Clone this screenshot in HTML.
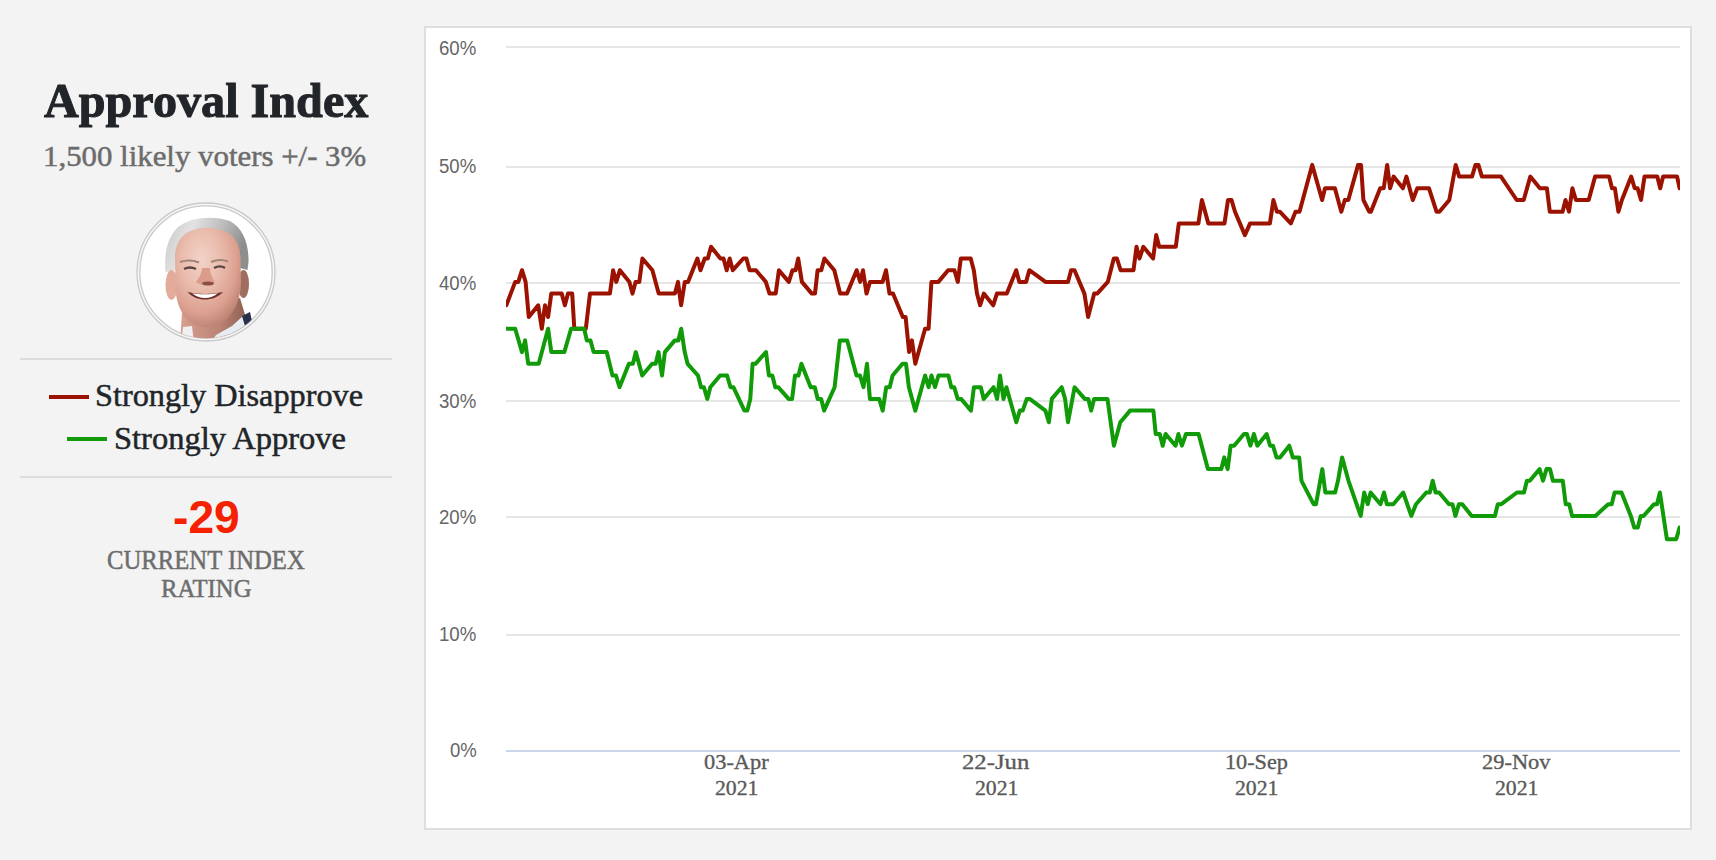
<!DOCTYPE html>
<html><head><meta charset="utf-8">
<style>
html,body{margin:0;padding:0;}
body{width:1716px;height:860px;background:#f3f3f3;position:relative;overflow:hidden;font-family:"Liberation Serif",serif;}
.t{position:absolute;white-space:nowrap;line-height:1;transform-origin:0 0;}
.hr{position:absolute;left:20px;width:372px;height:2px;background:#dcdcdc;}
.sw{position:absolute;height:4px;}
#chart{position:absolute;left:424px;top:26px;width:1264px;height:800px;background:#fff;border:2px solid #dedede;}
.gl{position:absolute;left:506px;width:1174px;height:2px;background:#e6e6e6;}
svg{position:absolute;left:0;top:0;}
</style></head><body>
<div id="photo" style="position:absolute;left:136px;top:202px;width:140px;height:140px;">
<svg width="140" height="140" viewBox="0 0 140 140">
<defs>
<clipPath id="cp"><circle cx="70" cy="70" r="66.2"/></clipPath>
<radialGradient id="skin" cx="0.4" cy="0.32" r="0.72">
<stop offset="0" stop-color="#f2d3c8"/><stop offset="0.4" stop-color="#eabdae"/><stop offset="0.75" stop-color="#dca090"/><stop offset="1" stop-color="#b98070"/>
</radialGradient>
<linearGradient id="neck" x1="0" y1="0" x2="1" y2="0">
<stop offset="0" stop-color="#d7a090"/><stop offset="0.6" stop-color="#b98272"/><stop offset="1" stop-color="#8a5e50"/>
</linearGradient>
<linearGradient id="hair" x1="0" y1="0" x2="1" y2="0.25">
<stop offset="0" stop-color="#c8c8c8"/><stop offset="0.35" stop-color="#e2e2e2"/><stop offset="0.7" stop-color="#bababa"/><stop offset="1" stop-color="#8e8e8e"/>
</linearGradient>
</defs>
<circle cx="70" cy="70" r="69" fill="#f6f6f6" stroke="#c9c9c9" stroke-width="1.3"/>
<circle cx="70" cy="70" r="66.2" fill="#fff" stroke="#c9c9c9" stroke-width="1.3"/>
<g clip-path="url(#cp)">
<path d="M46,110 L104,96 L110,116 L112,142 L44,142 Z" fill="url(#neck)"/>
<path d="M47,125 L56,124 L58,142 L45,142 Z" fill="#f0f0f0"/>
<path d="M108,113 L112,122 L104,134 L86,142 L74,142 L80,133 L96,124 Z" fill="#e6ecf2"/>
<path d="M106,114 L114,110 L117,124 L109,124 Z" fill="#28314a"/>
<path d="M29.5,70 C28,52 31,36 42,25 C54,15 78,13 94,19 C107,26 113,42 112.5,60 L111.5,68 L104,66 L40,68 Z" fill="url(#hair)"/>
<ellipse cx="35.5" cy="83" rx="6" ry="15" fill="#e2ab9a"/>
<ellipse cx="107.5" cy="82" rx="5.5" ry="14" fill="#a06e60"/>
<path d="M39,58 C38,36 52,26 70,26 C90,26 104,34 104.5,56 L105,82 C104,100 98,110 90,118 C84,123 76,125 70,125 C60,124 52,120 47,112 C42,104 40,96 39.5,86 Z" fill="url(#skin)"/>
<path d="M44,60 C50,58 57,58 63,60.5" stroke="#a08478" stroke-width="2" fill="none"/>
<path d="M75,60 C81,57.5 87,57.5 92,59.5" stroke="#a08478" stroke-width="2" fill="none"/>
<path d="M48,67 C52,65 56,65 60,67" stroke="#5a4442" stroke-width="2.3" fill="none"/>
<path d="M78,66 C82,64 86,64 89,66" stroke="#5a4442" stroke-width="2.3" fill="none"/>
<path d="M66,66 C66,72 62,77 60,80 C64,84 74,84 79,80 C76,76 74,71 74,66 Z" fill="#dc9c8c"/>
<ellipse cx="72" cy="81.5" rx="6" ry="2" fill="#8a5046"/>
<path d="M51.5,90 C60,100 78,100 87,90 C77,92.5 61,92.5 51.5,90 Z" fill="#6e3028"/>
<path d="M56,91.2 C63,97.6 75,97.6 82,91.2 C75,92.6 63,92.6 56,91.2 Z" fill="#ffffff"/>
</g>
</svg>
</div>
<div class="hr" style="top:358px"></div>
<div class="sw" style="left:49px;top:395px;width:40px;background:#9c1200"></div>
<div class="sw" style="left:67px;top:437px;width:40px;background:#119b08"></div>
<div class="hr" style="top:476px"></div>
<div id="chart"></div>
<div class="gl" style="top:46px"></div>
<div class="gl" style="top:166px"></div>
<div class="gl" style="top:282px"></div>
<div class="gl" style="top:400px"></div>
<div class="gl" style="top:516px"></div>
<div class="gl" style="top:634px"></div>
<div class="gl" style="top:750px;background:#ccd6eb"></div>
<div class="t" style="left:43.62px;top:75.80px;font-size:49.47px;font-family:'Liberation Serif';font-weight:bold;color:#212529;transform:scaleX(0.9738);-webkit-text-stroke:1px #212529">Approval Index</div>
<div class="t" style="left:43.22px;top:140.91px;font-size:29.92px;font-family:'Liberation Serif';font-weight:normal;color:#6c6c6c;transform:scaleX(1.0314);-webkit-text-stroke:0.5px #6c6c6c">1,500 likely voters +/- 3%</div>
<div class="t" style="left:95.40px;top:380.16px;font-size:31.91px;font-family:'Liberation Serif';font-weight:normal;color:#212529;transform:scaleX(1.0114);-webkit-text-stroke:0.5px #212529">Strongly Disapprove</div>
<div class="t" style="left:113.59px;top:422.77px;font-size:31.30px;font-family:'Liberation Serif';font-weight:normal;color:#212529;transform:scaleX(1.0384);-webkit-text-stroke:0.5px #212529">Strongly Approve</div>
<div class="t" style="left:173.05px;top:494.94px;font-size:45.92px;font-family:'Liberation Sans';font-weight:bold;color:#f52000;transform:scaleX(1.0063);">-29</div>
<div class="t" style="left:106.91px;top:546.72px;font-size:26.72px;font-family:'Liberation Serif';font-weight:normal;color:#6d6d6d;transform:scaleX(0.9242);-webkit-text-stroke:0.5px #6d6d6d">CURRENT INDEX</div>
<div class="t" style="left:160.76px;top:576.13px;font-size:26.12px;font-family:'Liberation Serif';font-weight:normal;color:#6d6d6d;transform:scaleX(0.9452);-webkit-text-stroke:0.5px #6d6d6d">RATING</div>
<div class="t" style="left:439.07px;top:38.18px;font-size:20.85px;font-family:'Liberation Sans';font-weight:normal;color:#666666;transform:scaleX(0.8943);">60%</div>
<div class="t" style="left:439.17px;top:157.28px;font-size:19.44px;font-family:'Liberation Sans';font-weight:normal;color:#666666;transform:scaleX(0.9564);">50%</div>
<div class="t" style="left:439.07px;top:273.04px;font-size:20.42px;font-family:'Liberation Sans';font-weight:normal;color:#666666;transform:scaleX(0.9128);">40%</div>
<div class="t" style="left:439.07px;top:390.54px;font-size:20.42px;font-family:'Liberation Sans';font-weight:normal;color:#666666;transform:scaleX(0.9128);">30%</div>
<div class="t" style="left:439.07px;top:506.98px;font-size:20.85px;font-family:'Liberation Sans';font-weight:normal;color:#666666;transform:scaleX(0.8943);">20%</div>
<div class="t" style="left:439.07px;top:624.48px;font-size:20.85px;font-family:'Liberation Sans';font-weight:normal;color:#666666;transform:scaleX(0.8943);">10%</div>
<div class="t" style="left:449.56px;top:740.30px;font-size:20.70px;font-family:'Liberation Sans';font-weight:normal;color:#666666;transform:scaleX(0.8955);">0%</div>
<div class="t" style="left:703.50px;top:751.60px;font-size:21.78px;font-family:'Liberation Serif';font-weight:normal;color:#595959;transform:scaleX(1.0283);-webkit-text-stroke:0.35px #595959">03-Apr</div>
<div class="t" style="left:714.62px;top:777.85px;font-size:21.48px;font-family:'Liberation Serif';font-weight:normal;color:#595959;transform:scaleX(1.0121);-webkit-text-stroke:0.35px #595959">2021</div>
<div class="t" style="left:962.29px;top:751.60px;font-size:21.78px;font-family:'Liberation Serif';font-weight:normal;color:#595959;transform:scaleX(1.1359);-webkit-text-stroke:0.35px #595959">22-Jun</div>
<div class="t" style="left:974.72px;top:777.85px;font-size:21.48px;font-family:'Liberation Serif';font-weight:normal;color:#595959;transform:scaleX(1.0121);-webkit-text-stroke:0.35px #595959">2021</div>
<div class="t" style="left:1224.60px;top:751.60px;font-size:21.78px;font-family:'Liberation Serif';font-weight:normal;color:#595959;transform:scaleX(1.0202);-webkit-text-stroke:0.35px #595959">10-Sep</div>
<div class="t" style="left:1235.07px;top:777.85px;font-size:21.48px;font-family:'Liberation Serif';font-weight:normal;color:#595959;transform:scaleX(1.0121);-webkit-text-stroke:0.35px #595959">2021</div>
<div class="t" style="left:1482.09px;top:751.60px;font-size:21.78px;font-family:'Liberation Serif';font-weight:normal;color:#595959;transform:scaleX(1.0297);-webkit-text-stroke:0.35px #595959">29-Nov</div>
<div class="t" style="left:1495.27px;top:777.85px;font-size:21.48px;font-family:'Liberation Serif';font-weight:normal;color:#595959;transform:scaleX(1.0121);-webkit-text-stroke:0.35px #595959">2021</div>
<svg width="1716" height="860" viewBox="0 0 1716 860" id="plot">
<defs><clipPath id="pa"><rect x="506" y="20" width="1174" height="740"/></clipPath></defs><g clip-path="url(#pa)"><polyline points="506.3,305.3 515.2,281.9 518.3,281.9 522.0,270.2 525.6,281.9 528.8,317.0 538.2,305.3 541.8,328.7 545.0,305.3 548.1,317.0 551.3,293.6 561.7,293.6 564.9,305.3 568.0,293.6 572.2,293.6 574.3,328.7 585.8,328.7 590.0,293.6 609.9,293.6 613.1,270.2 616.3,281.9 619.9,270.2 629.4,281.9 632.5,293.6 635.6,281.9 639.3,281.9 642.4,258.5 652.4,270.2 658.7,293.6 674.9,293.6 678.0,281.9 681.1,305.3 684.8,281.9 688.0,281.9 697.4,258.5 700.5,270.2 704.7,258.5 707.8,258.5 711.0,246.8 720.4,258.5 723.5,258.5 726.7,270.2 729.7,258.5 732.8,270.2 743.3,258.5 746.4,258.5 749.6,270.2 755.9,270.2 765.8,281.9 769.5,293.6 775.7,293.6 778.9,270.2 788.8,281.9 792.5,270.2 795.6,270.2 798.2,258.5 801.9,281.9 811.8,293.6 815.0,293.6 817.6,270.2 821.3,270.2 824.4,258.5 834.3,270.2 840.1,293.6 847.0,293.6 856.7,270.2 860.2,281.9 863.0,270.2 866.5,293.6 870.0,281.9 882.6,281.9 886.0,270.2 889.5,293.6 893.0,293.6 902.8,317.0 905.6,317.0 909.1,352.1 911.9,340.4 915.3,363.8 925.1,328.7 928.6,328.7 931.4,281.9 938.4,281.9 948.1,270.2 954.4,270.2 957.8,281.9 960.8,258.5 970.7,258.5 973.8,270.2 977.0,293.6 980.1,305.3 983.8,293.6 993.2,305.3 996.9,293.6 1006.8,293.6 1016.2,270.2 1019.3,281.9 1026.1,281.9 1029.3,270.2 1045.5,281.9 1068.0,281.9 1071.1,270.2 1074.5,270.2 1084.4,293.6 1088.1,317.0 1094.2,293.6 1097.2,293.6 1107.8,281.9 1113.8,258.5 1116.9,258.5 1120.6,270.2 1133.5,270.2 1136.5,246.8 1139.5,258.5 1143.3,246.8 1153.1,258.5 1156.2,235.1 1159.2,246.8 1175.8,246.8 1178.8,223.4 1198.4,223.4 1201.9,200.0 1208.3,223.4 1224.5,223.4 1228.0,200.0 1231.5,200.0 1235.0,211.7 1244.9,235.1 1250.1,223.4 1269.9,223.4 1273.4,200.0 1276.9,211.7 1279.8,211.7 1290.8,223.4 1295.5,211.7 1299.5,211.7 1312.2,164.9 1322.1,200.0 1325.0,188.3 1334.9,188.3 1341.3,211.7 1344.8,200.0 1348.3,200.0 1358.1,164.9 1361.0,164.9 1363.4,200.0 1369.2,211.7 1370.9,211.7 1380.2,188.3 1383.7,188.3 1387.2,164.9 1390.1,188.3 1393.6,176.6 1402.9,188.3 1406.4,176.6 1412.8,200.0 1417.3,188.3 1429.0,188.3 1436.5,211.7 1439.4,211.7 1449.3,200.0 1455.7,164.9 1459.2,176.6 1472.0,176.6 1475.5,164.9 1478.4,164.9 1481.9,176.6 1501.0,176.6 1516.7,200.0 1523.7,200.0 1530.3,176.6 1539.9,188.3 1546.9,188.3 1549.8,211.7 1562.6,211.7 1565.5,200.0 1569.0,211.7 1572.4,188.3 1575.9,200.0 1588.7,200.0 1595.1,176.6 1609.1,176.6 1612.0,188.3 1614.9,188.3 1618.4,211.7 1621.9,200.0 1631.2,176.6 1634.7,188.3 1637.6,188.3 1641.0,200.0 1644.5,176.6 1657.3,176.6 1660.2,188.3 1663.1,176.6 1677.1,176.6 1679.6,188.3" fill="none" stroke="#9c1200" stroke-width="4" stroke-linejoin="round" stroke-linecap="round"/>
<polyline points="506.3,328.7 515.2,328.7 522.0,352.1 525.1,340.4 528.2,363.8 538.7,363.8 548.1,328.7 551.3,352.1 564.3,352.1 571.1,328.7 584.2,328.7 586.8,340.4 590.5,340.4 593.6,352.1 606.7,352.1 612.5,375.5 616.0,375.5 619.5,387.2 628.9,363.8 632.9,363.8 635.8,352.1 642.2,375.5 652.1,363.8 655.6,363.8 658.5,352.1 662.0,375.5 664.9,352.1 674.8,340.4 678.3,340.4 681.2,328.7 684.7,352.1 687.6,363.8 698.0,375.5 701.0,387.2 703.9,387.2 707.3,398.9 710.3,387.2 720.1,375.5 727.1,375.5 730.5,387.2 733.4,387.2 744.4,410.6 747.3,410.6 750.3,398.9 752.6,363.8 755.5,363.8 766.0,352.1 768.9,375.5 772.3,375.5 775.3,387.2 778.2,387.2 788.6,398.9 792.1,398.9 795.0,375.5 798.5,375.5 801.4,363.8 810.7,387.2 814.8,387.2 817.7,398.9 821.2,398.9 824.1,410.6 834.6,387.2 839.8,340.4 847.2,340.4 856.5,375.5 860.0,375.5 863.5,387.2 867.0,363.8 869.9,398.9 879.2,398.9 882.7,410.6 886.2,387.2 889.7,387.2 892.6,375.5 902.5,363.8 906.0,363.8 908.9,387.2 915.3,410.6 925.1,375.5 928.6,387.2 931.5,375.5 935.0,387.2 938.5,375.5 948.4,375.5 951.3,387.2 954.2,387.2 957.7,398.9 961.1,398.9 971.0,410.6 973.9,387.2 980.8,387.2 983.7,398.9 993.6,387.2 997.1,398.9 1000.0,375.5 1003.5,398.9 1006.4,387.2 1016.3,422.3 1019.8,410.6 1022.7,410.6 1026.8,398.9 1029.7,398.9 1045.4,410.6 1048.9,422.3 1051.8,398.9 1061.7,387.2 1065.1,398.9 1068.0,422.3 1074.6,387.2 1084.8,398.9 1088.3,398.9 1091.2,410.6 1094.1,398.9 1107.5,398.9 1113.9,445.7 1120.3,422.3 1130.1,410.6 1153.4,410.6 1155.7,434.0 1159.8,434.0 1162.7,445.7 1165.6,434.0 1175.5,445.7 1178.4,434.0 1181.9,445.7 1186.0,434.0 1198.6,434.0 1207.9,469.1 1221.3,469.1 1224.2,457.4 1227.7,469.1 1230.6,445.7 1234.1,445.7 1244.0,434.0 1246.9,434.0 1250.4,445.7 1253.9,434.0 1257.3,445.7 1266.7,434.0 1270.1,445.7 1273.0,445.7 1276.5,457.4 1280.0,457.4 1289.3,445.7 1292.8,457.4 1299.2,457.4 1301.5,480.8 1313.6,504.2 1316.0,504.2 1322.3,469.1 1325.3,492.5 1335.1,492.5 1338.0,480.8 1342.1,457.4 1348.5,480.8 1360.7,515.9 1364.2,492.5 1367.7,504.2 1370.6,492.5 1380.5,504.2 1384.0,492.5 1386.9,504.2 1393.3,504.2 1403.2,492.5 1411.3,515.9 1416.0,504.2 1426.3,492.5 1429.8,492.5 1432.7,480.8 1435.6,492.5 1439.1,492.5 1449.0,504.2 1452.5,504.2 1455.4,515.9 1458.9,504.2 1462.3,504.2 1471.7,515.9 1494.9,515.9 1497.8,504.2 1501.3,504.2 1517.0,492.5 1524.0,492.5 1526.9,480.8 1529.8,480.8 1539.6,469.1 1543.0,480.8 1546.5,469.1 1550.0,469.1 1552.9,480.8 1562.8,480.8 1565.7,504.2 1569.2,504.2 1572.1,515.9 1595.4,515.9 1608.2,504.2 1611.7,504.2 1614.6,492.5 1621.5,492.5 1630.8,515.9 1634.3,527.6 1637.8,527.6 1640.7,515.9 1643.6,515.9 1654.1,504.2 1657.0,504.2 1659.9,492.5 1666.9,539.3 1676.2,539.3 1679.6,527.6" fill="none" stroke="#119b08" stroke-width="4" stroke-linejoin="round" stroke-linecap="round"/></g>
</svg>
</body></html>
